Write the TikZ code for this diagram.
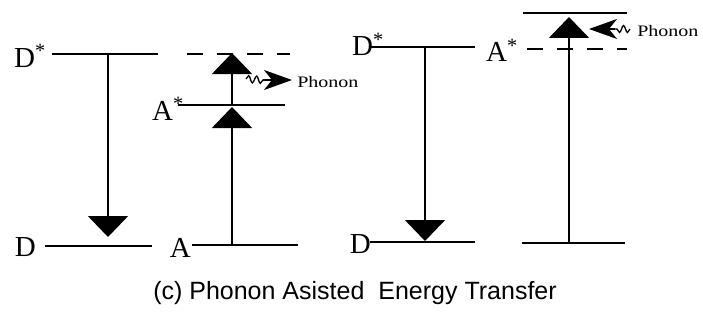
\documentclass[tikz,border=0pt]{standalone}
\usepackage{fontspec}
\setmainfont{Liberation Serif}
\newfontfamily\capfont{Liberation Sans}
\usetikzlibrary{arrows.meta,positioning,decorations.pathmorphing}

\begin{document}
\begin{tikzpicture}[x=1pt,y=-1pt,
  level/.style={line width=1.5pt},
  virtual/.style={level, dash pattern=on 16pt off 14pt},
  trans/.style={line width=1.8pt, -{Triangle[width=40pt,length=21pt]}},
  wiggle/.style={line width=1.3pt, decorate, decoration={snake,amplitude=3.5pt,segment length=8pt}},
  phon/.style={line width=1.3pt, -{Stealth[length=28pt,width=20pt,inset=8pt]}},
  lbl/.style={font=\fontsize{29}{29}\selectfont, inner sep=0pt, anchor=base east},
  ptext/.style={font=\fontsize{16}{16}\selectfont, inner sep=0pt, anchor=base west, xscale=1.25}
]
  \useasboundingbox (0,0) rectangle (703,321);

  % left panel: levels
  \coordinate (dsL1) at (52,54);  \coordinate (dsL2) at (158,54);
  \coordinate (vtL1) at (187,54); \coordinate (vtL2) at (290,54);
  \coordinate (dL1) at (45,246);  \coordinate (dL2) at (152,246);
  \coordinate (aL1) at (192,245); \coordinate (aL2) at (298,245);
  \coordinate (asL1) at (178,105); \coordinate (asL2) at (285,105);
  \draw[level] (dsL1) -- (dsL2);
  \draw[virtual] (vtL1) -- (vtL2);
  \draw[level] (dL1) -- (dL2);
  \draw[level] (aL1) -- (aL2);
  \draw[level] (asL1) -- (asL2);

  \node[lbl] (dsLlab) at (46,67) {D\textsuperscript{*}};
  \node[lbl] (dLlab) at (36,256) {D};
  \node[lbl] (aLlab) at (191,257) {A};
  \node[lbl] (asLlab) at (184,120) {A\textsuperscript{*}};

  % left panel: transitions
  \coordinate (dnLtop) at (108,54);  \coordinate (dnLbot) at (108,237);
  \coordinate (upL0) at (232,245);   \coordinate (upL1) at (232,107);
  \coordinate (upL1b) at (232,105);  \coordinate (upL2) at (232,53);
  \draw[trans] (dnLtop) -- (dnLbot);
  \draw[trans] (upL0) -- (upL1);
  \draw[trans] (upL1b) -- (upL2);

  % left phonon
  \coordinate (phL0) at (246,79); \coordinate (phL1) at (263,80); \coordinate (phL2) at (292,80);
  \draw[wiggle] (phL0) -- (phL1);
  \draw[phon] (phL1) -- (phL2);
  \node[ptext] (phLtxt) at (297,87) {Phonon};

  % right panel: levels
  \coordinate (dsR1) at (370,47);  \coordinate (dsR2) at (475,47);
  \coordinate (dR1) at (370,242);  \coordinate (dR2) at (475,242);
  \coordinate (vtR1) at (527,49);  \coordinate (vtR2) at (627,49);
  \coordinate (topR1) at (523,13); \coordinate (topR2) at (627,13);
  \coordinate (botR1) at (522,243); \coordinate (botR2) at (625,243);
  \draw[level] (dsR1) -- (dsR2);
  \draw[level] (dR1) -- (dR2);
  \draw[virtual] (vtR1) -- (vtR2);
  \draw[level] (topR1) -- (topR2);
  \draw[level] (botR1) -- (botR2);

  \node[lbl] (dsRlab) at (384,56) {D\textsuperscript{*}};
  \node[lbl] (dRlab) at (371,253) {D};
  \node[lbl] (asRlab) at (518,62) {A\textsuperscript{*}};

  % right panel: transitions
  \coordinate (dnRtop) at (425,47); \coordinate (dnRbot) at (425,241);
  \coordinate (upR0) at (569,243);  \coordinate (upR1) at (569,17);
  \draw[trans] (dnRtop) -- (dnRbot);
  \draw[trans] (upR0) -- (upR1);

  % right phonon
  \coordinate (phR0) at (630,29); \coordinate (phR1) at (615,29); \coordinate (phR2) at (589,29);
  \draw[wiggle] (phR0) -- (phR1);
  \draw[phon] (phR1) -- (phR2);
  \node[ptext] (phRtxt) at (637,37) {Phonon};

  % caption
  \node[font=\capfont\fontsize{25}{25}\selectfont, inner sep=0pt] (cap) at (355,293)
    {(c) Phonon Asisted~ Energy Transfer};
\end{tikzpicture}
\end{document}
